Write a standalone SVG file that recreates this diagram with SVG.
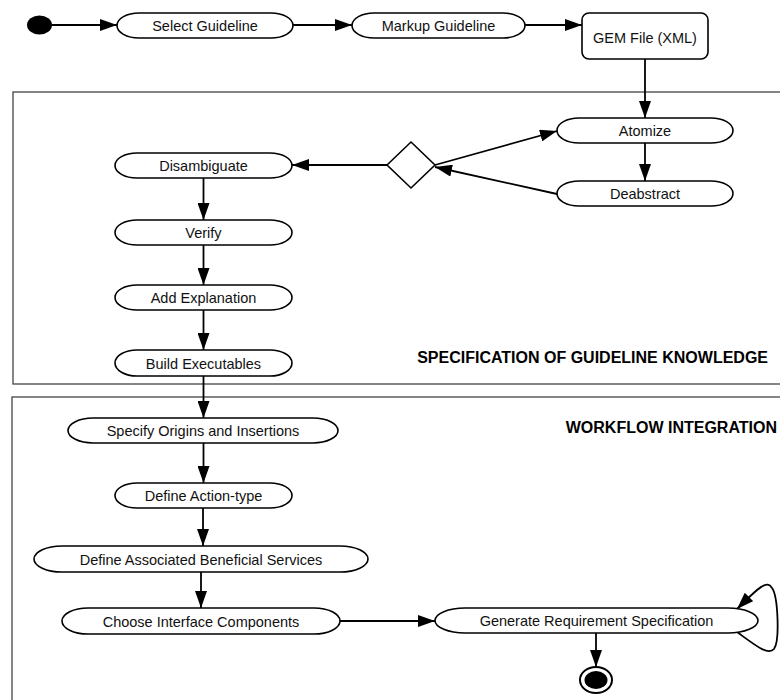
<svg xmlns="http://www.w3.org/2000/svg" width="780" height="700" viewBox="0 0 780 700">
<defs>
<marker id="ah" markerUnits="userSpaceOnUse" markerWidth="17" markerHeight="12" refX="17" refY="6" orient="auto">
<path d="M0,0 L17,6 L0,12 z" fill="#000"/>
</marker>
<style>
.sec{fill:none;stroke:#444;stroke-width:1.3}
.n{fill:#fff;stroke:#000;stroke-width:1.6}
.t{font-family:"Liberation Sans",Arial,sans-serif;font-size:14.5px;fill:#111;text-anchor:middle}
.lbl{font-family:"Liberation Sans",Arial,sans-serif;font-size:16px;font-weight:bold;fill:#000;text-anchor:end}
.c{fill:none;stroke:#000;stroke-width:1.8;marker-end:url(#ah)}
</style>
</defs>
<rect width="780" height="700" fill="#fff"/>
<g id="sections">
<rect class="sec" x="13" y="92" width="800" height="292"/>
<rect class="sec" x="12" y="397" width="800" height="330"/>
<text class="lbl" x="768" y="363">SPECIFICATION OF GUIDELINE KNOWLEDGE</text>
<text class="lbl" x="777" y="433">WORKFLOW INTEGRATION</text>
</g>
<g id="connectors">
<path class="c" d="M52,25 H117"/>
<path class="c" d="M293,25 H352"/>
<path class="c" d="M525,25 H582"/>
<path class="c" d="M645,59 V118"/>
<path class="c" d="M645,143 V181"/>
<path class="c" d="M435,165 L557,131"/>
<path class="c" d="M557,194 L435,167"/>
<path class="c" d="M387,165 H292"/>
<path class="c" d="M203.5,178 V220"/>
<path class="c" d="M203.5,245 V285"/>
<path class="c" d="M203.5,310 V350"/>
<path class="c" d="M203.5,376 V418"/>
<path class="c" d="M203.5,443 V483"/>
<path class="c" d="M203,508 V546"/>
<path class="c" d="M201,572 V608"/>
<path class="c" d="M340,621 H435"/>
<path class="c" d="M596,633 V667"/>
<path class="c" d="M737,632 C755,645 768,656 774,649 C780,641 778,596 772,588 C767,580 760,586 737,609"/>
</g>
<g id="start"><ellipse cx="39.5" cy="25" rx="12.5" ry="9.5" fill="#000"/></g>
<g id="select"><rect class="n" x="117" y="13" width="176" height="25" rx="22" ry="12.5"/><text class="t" x="205" y="30.5">Select Guideline</text></g>
<g id="markup"><rect class="n" x="352" y="13" width="173" height="25" rx="22" ry="12.5"/><text class="t" x="438.5" y="30.5">Markup Guideline</text></g>
<g id="gem"><rect class="n" x="582" y="13" width="126" height="46" rx="7"/><text class="t" x="645" y="43">GEM File (XML)</text></g>
<g id="atomize"><rect class="n" x="557" y="118" width="176" height="25" rx="22" ry="12.5"/><text class="t" x="645" y="136">Atomize</text></g>
<g id="deabstract"><rect class="n" x="557" y="181" width="176" height="25" rx="22" ry="12.5"/><text class="t" x="645" y="199">Deabstract</text></g>
<g id="decision"><polygon class="n" points="387,165 411,142 435,165 411,188"/></g>
<g id="disambiguate"><rect class="n" x="115" y="153" width="177" height="25" rx="22" ry="12.5"/><text class="t" x="203.5" y="171">Disambiguate</text></g>
<g id="verify"><rect class="n" x="115" y="220" width="177" height="25" rx="22" ry="12.5"/><text class="t" x="203.5" y="238">Verify</text></g>
<g id="addexplanation"><rect class="n" x="115" y="285" width="177" height="25" rx="22" ry="12.5"/><text class="t" x="203.5" y="303">Add Explanation</text></g>
<g id="buildexecutables"><rect class="n" x="115" y="350" width="177" height="26" rx="22" ry="13"/><text class="t" x="203.5" y="368.5">Build Executables</text></g>
<g id="specify"><rect class="n" x="68" y="418" width="270" height="25" rx="25" ry="12.5"/><text class="t" x="203" y="436">Specify Origins and Insertions</text></g>
<g id="actiontype"><rect class="n" x="115" y="483" width="177" height="25" rx="22" ry="12.5"/><text class="t" x="203.5" y="501">Define Action-type</text></g>
<g id="associated"><rect class="n" x="34" y="546" width="334" height="26" rx="28" ry="13"/><text class="t" x="201" y="564.5">Define Associated Beneficial Services</text></g>
<g id="choose"><rect class="n" x="62" y="608" width="278" height="26" rx="26" ry="13"/><text class="t" x="201" y="626.5">Choose Interface Components</text></g>
<g id="generate"><rect class="n" x="435" y="608" width="323" height="25" rx="30" ry="12.5"/><text class="t" x="596.5" y="626">Generate Requirement Specification</text></g>
<g id="end"><ellipse cx="596" cy="680" rx="16" ry="13" fill="#fff" stroke="#000" stroke-width="2"/><ellipse cx="596" cy="680" rx="11.5" ry="9" fill="#000"/></g>
</svg>
